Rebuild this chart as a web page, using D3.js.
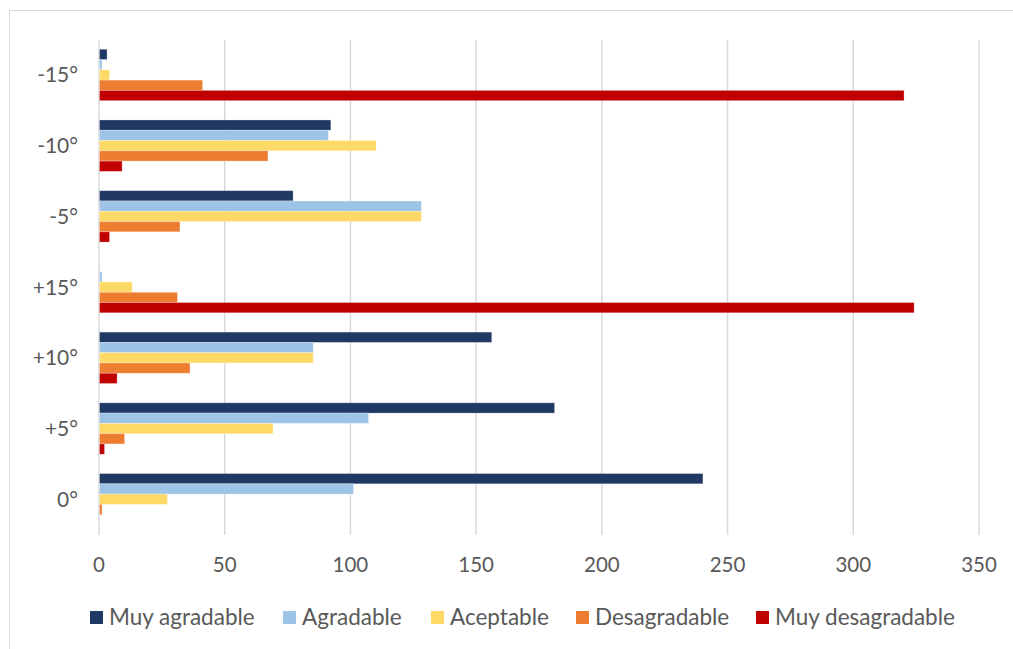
<!DOCTYPE html>
<html>
<head>
<meta charset="utf-8">
<script src="https://cdn.jsdelivr.net/npm/d3@7"></script>
<style>
  body { margin: 0; background: #fff; }
  text { font-family: Lato, "Open Sans", sans-serif; fill: #595959; }
</style>
</head>
<body>
<div id="chart"></div>
<script>
// categories, top to bottom as in the picture
const categories = ["-15°", "-10°", "-5°", "+15°", "+10°", "+5°", "0°"];
const seriesNames = ["Muy agradable", "Agradable", "Aceptable", "Desagradable", "Muy desagradable"];
const seriesColors = ["#203864", "#9dc3e6", "#ffd966", "#ed7d31", "#c00000"];

// values per category, in series order
const muyAgradable    = [3, 92, 77, 0, 156, 181, 240];
const agradable       = [1, 91, 128, 1, 85, 107, 101];
const aceptable       = [4, 110, 128, 13, 85, 69, 27];
const desagradable    = [41, 67, 32, 31, 36, 10, 1];
const muyDesagradable = [320, 9, 4, 324, 7, 2, 0];

const xTicks = [0, 50, 100, 150, 200, 250, 300, 350];

const values = [muyAgradable, agradable, aceptable, desagradable, muyDesagradable];
const rows = categories.map((c, i) => ({
    cat: c,
    vals: seriesNames.map((s, j) => ({series: s, color: seriesColors[j], value: values[j][i]}))
}));

const width = 1013, height = 649;
const svg = d3.select("#chart").append("svg")
    .attr("width", width)
    .attr("height", height);

// chart border
svg.append("rect")
    .attr("x", 9.5).attr("y", 10.5)
    .attr("width", width + 10).attr("height", height + 10)
    .attr("fill", "none")
    .attr("stroke", "#d9d9d9")
    .attr("stroke-width", 1);

const x = d3.scaleLinear().domain([0, 350]).range([99, 979]);
const y = d3.scaleBand().domain(categories).range([39.6, 534.6])
    .paddingInner(0.273).paddingOuter(0.1365);
const ySub = d3.scaleBand().domain(seriesNames).range([0, y.bandwidth()]);

// gridlines
svg.append("g").selectAll("line")
    .data(xTicks)
    .join("line")
    .attr("x1", d => x(d)).attr("x2", d => x(d))
    .attr("y1", 40).attr("y2", 535)
    .attr("stroke", "#d9d9d9")
    .attr("stroke-width", 1.5);

// bars
const groups = svg.append("g").selectAll("g")
    .data(rows)
    .join("g")
    .attr("transform", d => "translate(0," + y(d.cat) + ")");

groups.selectAll("rect")
    .data(d => d.vals.filter(v => v.value > 0))
    .join("rect")
    .attr("x", x(0) + 0.5)
    .attr("y", d => ySub(d.series))
    .attr("width", d => x(d.value) - x(0))
    .attr("height", ySub.bandwidth())
    .attr("fill", d => d.color)
    .attr("stroke", "#fff")
    .attr("stroke-opacity", 0.35)
    .attr("stroke-width", 0.8);

// x labels
svg.append("g").selectAll("text")
    .data(xTicks)
    .join("text")
    .attr("x", d => x(d))
    .attr("y", 572)
    .attr("text-anchor", "middle")
    .style("font-size", "20.5px")
    .text(d => d);

// y labels
svg.append("g").selectAll("text")
    .data(categories)
    .join("text")
    .attr("x", 78)
    .attr("y", d => y(d) + y.bandwidth() / 2 + 7.5)
    .attr("text-anchor", "end")
    .style("font-size", "21px")
    .text(d => d);

// legend
const legendX = [90, 283, 431, 576, 756];
const legend = svg.append("g").selectAll("g")
    .data(seriesNames)
    .join("g")
    .attr("transform", (d, i) => "translate(" + legendX[i] + ",611)");

legend.append("rect")
    .attr("width", 13).attr("height", 13)
    .attr("fill", (d, i) => seriesColors[i]);

legend.append("text")
    .attr("x", 19).attr("y", 14)
    .style("font-size", "22.5px")
    .text(d => d);
</script>
</body>
</html>
